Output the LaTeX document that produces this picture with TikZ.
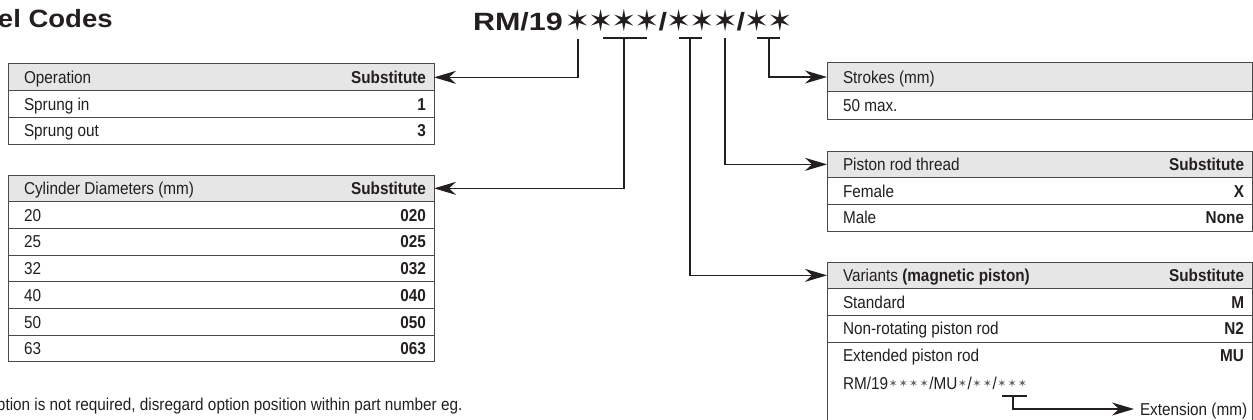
\documentclass[tikz,border=0pt]{standalone}
\usepackage{fontspec}
\setmainfont{Liberation Sans}[FakeStretch=0.89]
\newfontfamily\codefont{Liberation Sans}[FakeStretch=1.22]
\newfontfamily\titlefont{Liberation Sans}[FakeStretch=1.1]
\newfontfamily\symfont{DejaVu Sans}
\usetikzlibrary{arrows.meta}
\definecolor{ink}{HTML}{231F20}
\definecolor{hdrfill}{HTML}{E6E6E6}
\definecolor{rulec}{HTML}{4A4A4A}
\newcommand{\bigst}{\makebox[23.2pt]{\raisebox{-0.5pt}{\symfont\fontsize{30}{30}\selectfont ✶}}}
\newcommand{\smst}{\makebox[10.3pt]{\raisebox{1.5pt}{\symfont\fontsize{11}{11}\selectfont\color{ink!70}✶}}}
\begin{document}
\begin{tikzpicture}[x=1pt,y=-1pt,
  every node/.style={inner sep=0pt, outer sep=0pt, text=ink},
  txt/.style={font=\fontsize{17.2}{19}\selectfont, text height=12.3pt, text depth=0pt},
  hdr/.style={draw=rulec, line width=1pt, fill=hdrfill, anchor=north west, minimum height=26.7pt},
  cell/.style={draw=rulec, line width=1pt, fill=white, anchor=north west, minimum height=26.7pt},
  lt/.style={txt, anchor=west, xshift=16pt},
  rt/.style={txt, anchor=east, xshift=-8pt, font=\fontsize{17.2}{19}\selectfont\bfseries},
  conn/.style={draw=ink, line width=1.3pt},
  arr/.style={conn, -{Stealth[length=22pt,width=13pt,inset=7pt]}},
]
\useasboundingbox (0,0) rectangle (1253,420);

% title and code
\node[anchor=base west, font=\titlefont\bfseries\fontsize{25}{25}\selectfont] (title) at (-2,28) {el Codes};
\node[anchor=base west, font=\codefont\bfseries\fontsize{25}{25}\selectfont] (code) at (473,31)
  {RM/19\kern3pt\bigst\bigst\bigst\bigst/\bigst\bigst\bigst/\bigst\bigst};

% table 1: operation
\node[hdr, minimum width=426pt] (opH) at (8,64) {};
\node[lt] (opHl) at (opH.west) {Operation};
\node[rt] (opHr) at (opH.east) {Substitute};
\node[cell, minimum width=426pt] (op1) at (opH.south west) {};
\node[lt] (op1l) at (op1.west) {Sprung in};
\node[rt] (op1r) at (op1.east) {1};
\node[cell, minimum width=426pt] (op2) at (op1.south west) {};
\node[lt] (op2l) at (op2.west) {Sprung out};
\node[rt] (op2r) at (op2.east) {3};

% table 2: cylinder diameters
\node[hdr, minimum width=426pt] (cdH) at (8,175) {};
\node[lt] (cdHl) at (cdH.west) {Cylinder Diameters (mm)};
\node[rt] (cdHr) at (cdH.east) {Substitute};
\node[cell, minimum width=426pt] (cd1) at (cdH.south west) {};
\node[lt] (cd1l) at (cd1.west) {20};
\node[rt] (cd1r) at (cd1.east) {020};
\node[cell, minimum width=426pt] (cd2) at (cd1.south west) {};
\node[lt] (cd2l) at (cd2.west) {25};
\node[rt] (cd2r) at (cd2.east) {025};
\node[cell, minimum width=426pt] (cd3) at (cd2.south west) {};
\node[lt] (cd3l) at (cd3.west) {32};
\node[rt] (cd3r) at (cd3.east) {032};
\node[cell, minimum width=426pt] (cd4) at (cd3.south west) {};
\node[lt] (cd4l) at (cd4.west) {40};
\node[rt] (cd4r) at (cd4.east) {040};
\node[cell, minimum width=426pt] (cd5) at (cd4.south west) {};
\node[lt] (cd5l) at (cd5.west) {50};
\node[rt] (cd5r) at (cd5.east) {050};
\node[cell, minimum width=426pt] (cd6) at (cd5.south west) {};
\node[lt] (cd6l) at (cd6.west) {63};
\node[rt] (cd6r) at (cd6.east) {063};

% table 3: strokes
\node[hdr, minimum width=425pt, minimum height=28pt] (stH) at (827,63) {};
\node[lt] (stHl) at (stH.west) {Strokes (mm)};
\node[cell, minimum width=425pt, minimum height=28pt] (st1) at (stH.south west) {};
\node[lt] (st1l) at (st1.west) {50 max.};

% table 4: piston rod thread
\node[hdr, minimum width=425pt] (prH) at (827,151) {};
\node[lt] (prHl) at (prH.west) {Piston rod thread};
\node[rt] (prHr) at (prH.east) {Substitute};
\node[cell, minimum width=425pt] (pr1) at (prH.south west) {};
\node[lt] (pr1l) at (pr1.west) {Female};
\node[rt] (pr1r) at (pr1.east) {X};
\node[cell, minimum width=425pt] (pr2) at (pr1.south west) {};
\node[lt] (pr2l) at (pr2.west) {Male};
\node[rt] (pr2r) at (pr2.east) {None};

% table 5: variants
\node[hdr, minimum width=425pt] (vaH) at (827,262) {};
\node[lt] (vaHl) at (vaH.west) {Variants \textbf{(magnetic piston)}};
\node[rt] (vaHr) at (vaH.east) {Substitute};
\node[cell, minimum width=425pt] (va1) at (vaH.south west) {};
\node[lt] (va1l) at (va1.west) {Standard};
\node[rt] (va1r) at (va1.east) {M};
\node[cell, minimum width=425pt] (va2) at (va1.south west) {};
\node[lt] (va2l) at (va2.west) {Non-rotating piston rod};
\node[rt] (va2r) at (va2.east) {N2};
\node[cell, minimum width=425pt, minimum height=95pt] (va3) at (va2.south west) {};
\node[lt] (va3l) at ([yshift=-13.5pt]va3.north west) {Extended piston rod};
\node[rt] (va3r) at ([yshift=-13.5pt]va3.north east) {MU};
\node[txt, anchor=west] (va3c) at (843,383) {RM/19\smst\smst\smst\smst/MU\smst/\smst\smst/\smst\smst\smst};
\node[txt, anchor=west, outer xsep=6pt] (ext) at (1134,409) {Extension (mm)};

% footnote
\node[txt, anchor=west] (note) at (-3,404) {ption is not required, disregard option position within part number eg.};

% brackets and connectors
\coordinate (k1) at (578,39);
\coordinate (b2a) at (603,38); \coordinate (b2b) at (647,38); \coordinate (k2) at (624,38);
\coordinate (b3a) at (679,38); \coordinate (b3b) at (702,38); \coordinate (k3) at (690,38);
\coordinate (k4) at (725,38);
\coordinate (b5a) at (757,38); \coordinate (b5b) at (780,38); \coordinate (k5) at (769,38);
\coordinate (b6a) at (1002,396); \coordinate (b6b) at (1027,396); \coordinate (k6) at (1013,396);

\draw[conn] (b2a) -- (b2b);
\draw[conn] (b3a) -- (b3b);
\draw[conn] (b5a) -- (b5b);
\draw[conn] (b6a) -- (b6b);

\draw[arr] (k1) |- (opH.east);
\draw[arr] (k2) |- (cdH.east);
\draw[arr] (k3) |- (vaH.west);
\draw[arr] (k4) |- (prH.west);
\draw[arr] (k5) |- (stH.west);
\draw[arr] (k6) |- (ext.west);
\end{tikzpicture}
\end{document}
